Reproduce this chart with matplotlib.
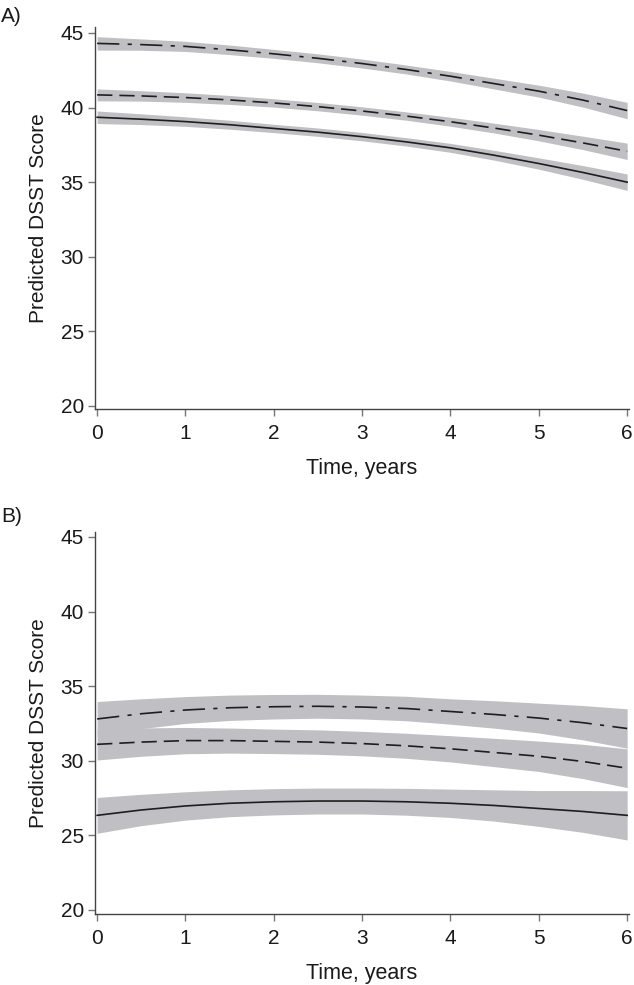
import matplotlib as mpl
mpl.use('Agg')
import matplotlib.pyplot as plt
import numpy as np

mpl.rc('font', family=['Liberation Sans', 'DejaVu Sans'], size=15)
mpl.rcParams['lines.scale_dashes'] = False

years = [0, 0.5, 1, 1.5, 2, 2.5, 3, 3.5, 4, 4.5, 5, 5.5, 6]

# panel A
a_dashdot = [44.3, 44.22, 44.1, 43.87, 43.6, 43.3, 42.95, 42.55, 42.1, 41.6, 41.1, 40.5, 39.8]
a_dashdot_hw = [0.45, 0.38, 0.34, 0.32, 0.3, 0.3, 0.3, 0.3, 0.32, 0.36, 0.4, 0.47, 0.55]
a_dashed = [40.85, 40.78, 40.67, 40.51, 40.31, 40.06, 39.77, 39.43, 39.05, 38.62, 38.15, 37.63, 37.07]
a_dashed_hw = [0.4, 0.35, 0.32, 0.3, 0.28, 0.28, 0.28, 0.28, 0.3, 0.33, 0.38, 0.45, 0.55]
a_solid = [39.35, 39.22, 39.06, 38.85, 38.6, 38.35, 38.05, 37.7, 37.3, 36.8, 36.25, 35.65, 35.0]
a_solid_hw = [0.42, 0.36, 0.32, 0.3, 0.28, 0.28, 0.28, 0.28, 0.3, 0.33, 0.38, 0.46, 0.55]

# panel B
b_dashdot = [32.8, 33.15, 33.4, 33.55, 33.62, 33.65, 33.6, 33.5, 33.3, 33.1, 32.86, 32.55, 32.16]
b_dashdot_hw = [1.17, 1.0, 0.9, 0.85, 0.82, 0.8, 0.8, 0.82, 0.85, 0.92, 1.0, 1.15, 1.32]
b_dashed = [31.1, 31.25, 31.35, 31.35, 31.3, 31.25, 31.15, 31.0, 30.8, 30.55, 30.3, 29.95, 29.5]
b_dashed_hw = [1.05, 0.95, 0.88, 0.84, 0.82, 0.82, 0.82, 0.84, 0.88, 0.95, 1.02, 1.15, 1.3]
b_solid = [26.34, 26.7, 26.97, 27.15, 27.25, 27.3, 27.3, 27.25, 27.15, 27.0, 26.8, 26.6, 26.34]
b_solid_hw = [1.2, 1.05, 0.95, 0.9, 0.88, 0.87, 0.87, 0.9, 0.95, 1.05, 1.2, 1.4, 1.65]

yticks = [20, 25, 30, 35, 40, 45]
xticks = [0, 1, 2, 3, 4, 5, 6]

band = '#c0c0c4'
ink = '#1e1e1e'
axc = '#444444'

fig = plt.figure(figsize=(6.34, 9.85), dpi=100)
axA = fig.add_axes([0.150, 0.5848, 0.842, 0.3878])
axB = fig.add_axes([0.150, 0.0721, 0.842, 0.3878])

styles = [('-', None), ('--', (11, 5)), ('-.', (16, 6, 3, 6))]

def panel(ax, series, ylo, yhi):
	x = np.array(years)
	for (y, hw), (ls, dash) in zip(series, styles):
		y = np.array(y)
		hw = np.array(hw)
		ax.fill_between(x, y - hw, y + hw, color=band, lw=0, zorder=1)
	for (y, hw), (ls, dash) in zip(series, styles):
		line, = ax.plot(x, y, color=ink, lw=1.2, zorder=2)
		if dash is not None:
			line.set_dashes(dash)
	ax.set_xlim(-0.023, 6.02)
	ax.set_ylim(ylo, yhi)
	ax.set_xticks(xticks)
	ax.set_yticks(yticks)
	for s in ['top', 'right']:
		ax.spines[s].set_visible(False)
	for s in ['left', 'bottom']:
		ax.spines[s].set_color(axc)
		ax.spines[s].set_linewidth(1.0)
	ax.tick_params(direction='out', length=5, width=1, color='#777777', labelsize=15, labelcolor='#1a1a1a', pad=3)
	ax.tick_params(axis='x', pad=6)
	ax.set_ylabel('Predicted DSST Score', fontsize=15, color='#1a1a1a')
	ax.yaxis.set_label_coords(-0.088, 0.5)
	ax.set_xlabel('Time, years', fontsize=15.5, color='#1a1a1a')
	ax.xaxis.set_label_coords(0.5, -0.128)

panel(axA, [(a_solid, a_solid_hw), (a_dashed, a_dashed_hw), (a_dashdot, a_dashdot_hw)], 19.8, 45.4)
panel(axB, [(b_solid, b_solid_hw), (b_dashed, b_dashed_hw), (b_dashdot, b_dashdot_hw)], 19.73, 45.33)

fig.text(0.002, 1 - 16/985., 'A)', fontsize=15, va='center', color='#1a1a1a')
fig.text(0.002, 1 - 517/985., 'B)', fontsize=15, va='center', color='#1a1a1a')

fig.savefig('out.png', dpi=100)
